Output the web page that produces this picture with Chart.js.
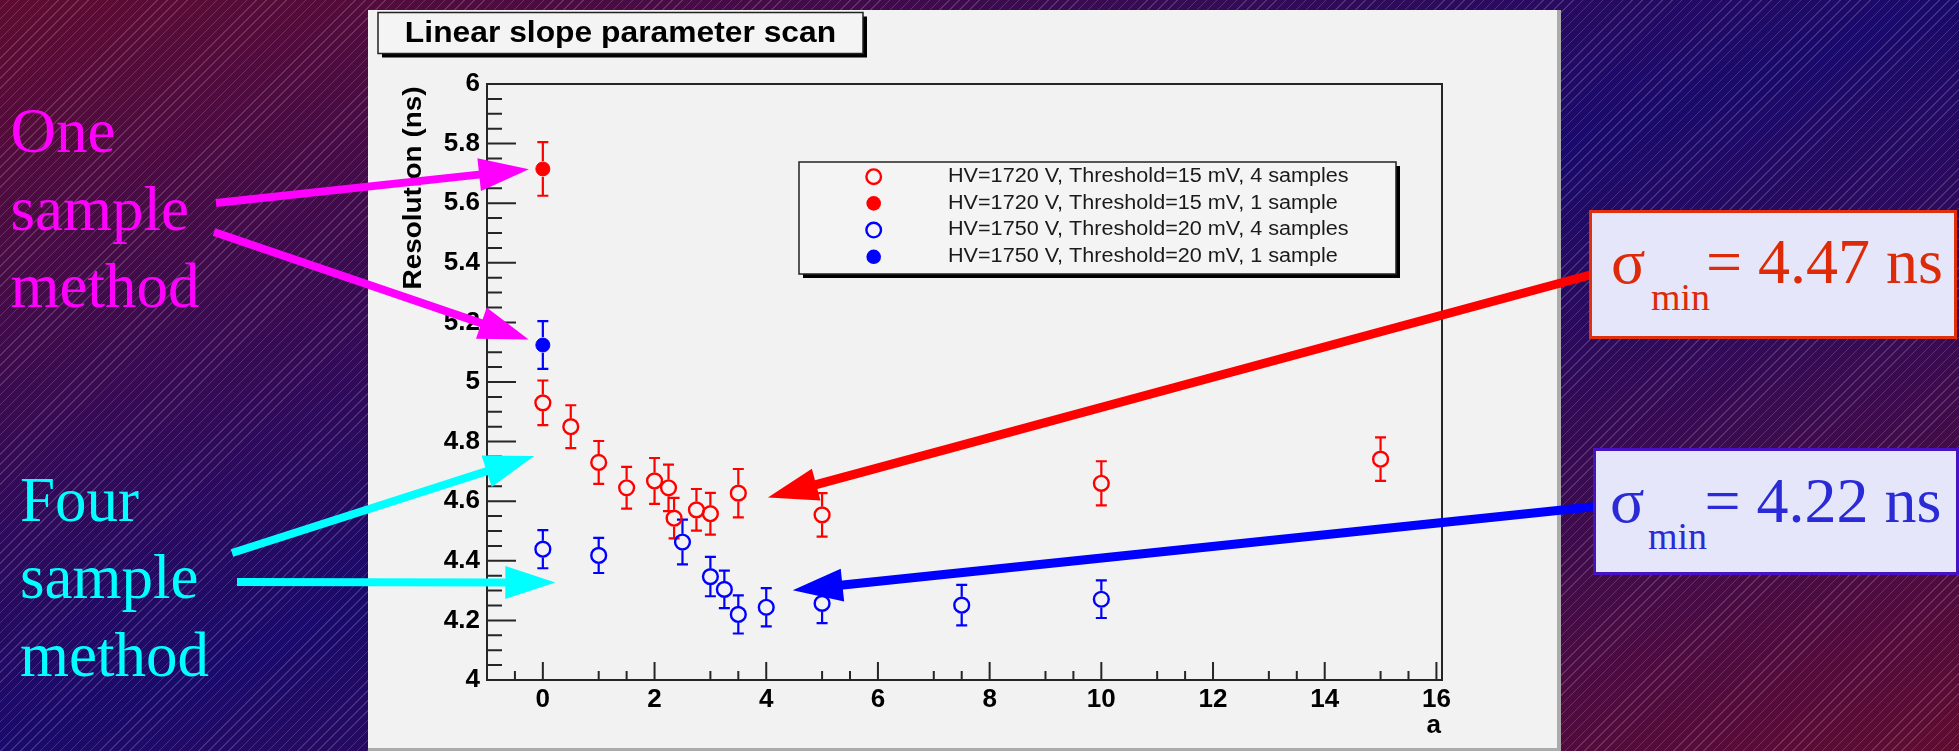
<!DOCTYPE html>
<html>
<head>
<meta charset="utf-8">
<title>Linear slope parameter scan</title>
<script src="https://cdn.jsdelivr.net/npm/chart.js@4.4.1/dist/chart.umd.min.js"></script>
<style>
  html, body { margin: 0; padding: 0; }
  body {
    width: 1959px; height: 751px; overflow: hidden; position: relative;
    background:
      repeating-linear-gradient(135deg, rgba(255,255,255,0) 0px, rgba(255,255,255,0) 6px,
                                rgba(255,255,255,0.16) 6px, rgba(255,255,255,0.16) 7px),
      linear-gradient(to bottom right, #600c30 0%, #1a0a6c 50%, #600c30 100%);
  }
  #plot { position: absolute; left: 0; top: 0; z-index: 1; }
  .caption {
    position: absolute; z-index: 2; white-space: nowrap;
    font-family: "Liberation Serif", "Times New Roman", serif;
    font-size: 63px; line-height: 77.5px;
  }
  .sbox { position: absolute; z-index: 2; box-sizing: border-box; background: #e6e6fa; }
  .stxt {
    position: absolute; z-index: 3; white-space: nowrap;
    font-family: "Liberation Serif", "Times New Roman", serif; line-height: 1;
  }
</style>
</head>
<body>
<canvas id="plot" width="1959" height="751"></canvas>

<div class="caption" style="left:10.5px; top:93.3px; color:#ff00ff;">One<br>sample<br>method</div>
<div class="caption" style="left:20px; top:461.7px; color:#00ffff;">Four<br>sample<br>method</div>

<div class="sbox" style="left:1589px; top:210px; width:368px; height:129px; border:3px solid #e0300e;"></div>
<span class="stxt" style="left:1611px; top:229.7px; font-size:64px; color:#dd2a08;">σ</span>
<span class="stxt" style="left:1651px; top:278.2px; font-size:38px; color:#dd2a08;">min</span>
<span class="stxt" style="left:1706px; top:229.7px; font-size:64px; color:#dd2a08;">= 4.47 ns</span>

<div class="sbox" style="left:1593px; top:448px; width:366px; height:127px; border:3px solid #4612c4;"></div>
<span class="stxt" style="left:1610px; top:469.1px; font-size:64px; color:#2a2ad6;">σ</span>
<span class="stxt" style="left:1648px; top:516.5px; font-size:38px; color:#2a2ad6;">min</span>
<span class="stxt" style="left:1704.5px; top:469.1px; font-size:64px; color:#2a2ad6;">= 4.22 ns</span>

<script>
// ---- Scan results: slope parameter a vs. timing resolution (ns) ----
// HV=1720 V, Threshold=15 mV, 4 samples
const aRed4    = [0, 0.5, 1, 1.5, 2, 2.25, 2.35, 2.75, 3, 3.5, 5, 10, 15];
const resRed4  = [4.93, 4.85, 4.73, 4.645, 4.668, 4.645, 4.543, 4.571, 4.558, 4.627, 4.554, 4.66, 4.741];
const errRed4  = [0.075, 0.072, 0.072, 0.07, 0.077, 0.078, 0.068, 0.07, 0.07, 0.081, 0.073, 0.074, 0.073];
// HV=1720 V, Threshold=15 mV, 1 sample
const aRed1    = [0];
const resRed1  = [5.715];
const errRed1  = [0.09];
// HV=1750 V, Threshold=20 mV, 4 samples
const aBlue4   = [0, 1, 2.5, 3, 3.25, 3.5, 4, 5, 7.5, 10];
const resBlue4 = [4.439, 4.418, 4.463, 4.347, 4.304, 4.22, 4.244, 4.257, 4.251, 4.271];
const errBlue4 = [0.064, 0.059, 0.075, 0.066, 0.063, 0.064, 0.064, 0.066, 0.068, 0.063];
// HV=1750 V, Threshold=20 mV, 1 sample
const aBlue1   = [0];
const resBlue1 = [5.124];
const errBlue1 = [0.08];

const seriesLabels = [
  'HV=1720 V, Threshold=15 mV, 4 samples',
  'HV=1720 V, Threshold=15 mV, 1 sample',
  'HV=1750 V, Threshold=20 mV, 4 samples',
  'HV=1750 V, Threshold=20 mV, 1 sample'
];

const xTickValues = [0, 2, 4, 6, 8, 10, 12, 14, 16];
const xTickLabels = ['0', '2', '4', '6', '8', '10', '12', '14', '16'];
const yTickValues = [4, 4.2, 4.4, 4.6, 4.8, 5, 5.2, 5.4, 5.6, 5.8, 6];
const yTickLabels = ['4', '4.2', '4.4', '4.6', '4.8', '5', '5.2', '5.4', '5.6', '5.8', '6'];

const plotTitle = 'Linear slope parameter scan';
const xTitle = 'a';
const yTitle = 'Resolution (ns)';

// ---- Layout of the page ----
const W = 1959, H = 751;
const FRAME = { left: 487, right: 1442, top: 84, bottom: 680 };
const PANEL = { x: 368, y: 10, w: 1193, h: 741 };
const TITLE_BOX = { x: 378, y: 12.5, w: 485, h: 41 };
const LEGEND_BOX = { x: 799, y: 162, w: 597, h: 112 };
const SANS = '"Liberation Sans", Arial, Helvetica, sans-serif';

// Annotation arrows: tail in page pixels, head in data units (a, ns)
const arrows = [
  { tail: [216, 203], head: [-0.25, 5.714], color: '#ff00ff', width: 8 },
  { tail: [214, 232], head: [-0.254, 5.143], color: '#ff00ff', width: 8 },
  { tail: [232, 553], head: [-0.154, 4.752], color: '#00ffff', width: 8 },
  { tail: [237, 582], head: [0.224, 4.327], color: '#00ffff', width: 8 },
  { tail: [1592, 274.5], head: [4.03, 4.612], color: '#ff0000', width: 9 },
  { tail: [1596, 506.5], head: [4.474, 4.301], color: '#0000ff', width: 9 }
];

function points(xs, ys, es) {
  return xs.map((x, i) => ({ x: x, y: ys[i], err: es[i] }));
}

function stretchedText(ctx, text, x, y, sx, align) {
  ctx.save();
  ctx.translate(x, y);
  ctx.scale(sx, 1);
  ctx.textAlign = align || 'left';
  ctx.fillText(text, 0, 0);
  ctx.restore();
}

function drawArrow(ctx, x0, y0, x1, y1, color, w) {
  const headL = 50, headHW = 16.5;
  const dx = x1 - x0, dy = y1 - y0, len = Math.hypot(dx, dy);
  const ux = dx / len, uy = dy / len;
  const bx = x1 - ux * headL, by = y1 - uy * headL;
  ctx.save();
  ctx.strokeStyle = color; ctx.fillStyle = color;
  ctx.lineWidth = w; ctx.lineCap = 'butt';
  ctx.beginPath(); ctx.moveTo(x0, y0); ctx.lineTo(bx + ux * 2, by + uy * 2); ctx.stroke();
  ctx.beginPath();
  ctx.moveTo(x1, y1);
  ctx.lineTo(bx - uy * headHW, by + ux * headHW);
  ctx.lineTo(bx + uy * headHW, by - ux * headHW);
  ctx.closePath(); ctx.fill();
  ctx.restore();
}

function drawMarker(ctx, x, y, color, filled, r) {
  ctx.save();
  ctx.beginPath(); ctx.arc(x, y, r, 0, Math.PI * 2);
  if (filled) { ctx.fillStyle = color; ctx.fill(); }
  else { ctx.strokeStyle = color; ctx.lineWidth = 2.4; ctx.stroke(); }
  ctx.restore();
}

const canvasDecor = {
  id: 'canvasDecor',
  beforeDraw(chart) {
    const ctx = chart.ctx;
    ctx.save();
    // canvas panel
    ctx.fillStyle = '#f2f2f2';
    ctx.fillRect(PANEL.x, PANEL.y, PANEL.w, PANEL.h);
    ctx.fillStyle = '#ababab';
    ctx.fillRect(PANEL.x + PANEL.w - 4, PANEL.y, 4, PANEL.h);
    ctx.fillRect(PANEL.x, H - 3, PANEL.w, 3);
    // title box with shadow
    const t = TITLE_BOX;
    ctx.fillStyle = '#000';
    ctx.fillRect(t.x + 4, t.y + 4, t.w, t.h);
    ctx.fillStyle = '#f4f4f4';
    ctx.fillRect(t.x, t.y, t.w, t.h);
    ctx.strokeStyle = '#222'; ctx.lineWidth = 1.5;
    ctx.strokeRect(t.x, t.y, t.w, t.h);
    ctx.fillStyle = '#000';
    ctx.font = 'bold 30px ' + SANS;
    ctx.textBaseline = 'alphabetic';
    stretchedText(ctx, plotTitle, t.x + t.w / 2, 41.7, 1.06, 'center');
    ctx.restore();
  },
  beforeDatasetsDraw(chart) {
    // vertical error bars with end caps, leaving the marker interior clear
    const ctx = chart.ctx, xs = chart.scales.x, ys = chart.scales.y;
    chart.data.datasets.forEach(ds => {
      ctx.save();
      ctx.strokeStyle = ds.borderColor; ctx.lineWidth = 2.2;
      ds.data.forEach(p => {
        const px = xs.getPixelForValue(p.x), py = ys.getPixelForValue(p.y);
        const top = ys.getPixelForValue(p.y + p.err), bot = ys.getPixelForValue(p.y - p.err);
        const r = ds.pointRadius + 1;
        ctx.beginPath();
        ctx.moveTo(px, py - r); ctx.lineTo(px, top);
        ctx.moveTo(px, py + r); ctx.lineTo(px, bot);
        ctx.moveTo(px - 5.5, top); ctx.lineTo(px + 5.5, top);
        ctx.moveTo(px - 5.5, bot); ctx.lineTo(px + 5.5, bot);
        ctx.stroke();
      });
      ctx.restore();
    });
  },
  afterDraw(chart) {
    const ctx = chart.ctx, xs = chart.scales.x, ys = chart.scales.y, ca = chart.chartArea;
    ctx.save();
    // frame: top and right sides
    ctx.strokeStyle = '#262626'; ctx.lineWidth = 2;
    ctx.beginPath();
    ctx.moveTo(ca.left, ca.top); ctx.lineTo(ca.right, ca.top); ctx.lineTo(ca.right, ca.bottom);
    ctx.stroke();
    // inward tick marks
    ctx.beginPath();
    for (let i = 0; i < yTickValues.length; i++) {
      const v = yTickValues[i], py = ys.getPixelForValue(v);
      ctx.moveTo(ca.left, py); ctx.lineTo(ca.left + 29, py);
      if (i < yTickValues.length - 1) {
        const step = (yTickValues[i + 1] - v) / 4;
        for (let k = 1; k < 4; k++) {
          const my = ys.getPixelForValue(v + k * step);
          ctx.moveTo(ca.left, my); ctx.lineTo(ca.left + 15, my);
        }
      }
    }
    for (let i = 0; i < xTickValues.length; i++) {
      const v = xTickValues[i], px = xs.getPixelForValue(v);
      ctx.moveTo(px, ca.bottom); ctx.lineTo(px, ca.bottom - 18);
      const half = xs.getPixelForValue(v - 1), halfR = xs.getPixelForValue(v - 0.5);
      if (v - 1 > xs.min) { ctx.moveTo(half, ca.bottom); ctx.lineTo(half, ca.bottom - 9); }
      ctx.moveTo(halfR, ca.bottom); ctx.lineTo(halfR, ca.bottom - 9);
    }
    ctx.stroke();

    // axis titles
    ctx.fillStyle = '#000';
    ctx.font = 'bold 26px ' + SANS;
    ctx.textBaseline = 'alphabetic';
    stretchedText(ctx, xTitle, ca.right - 1, 733, 1.0, 'right');
    ctx.save();
    ctx.translate(421, 289.5);
    ctx.rotate(-Math.PI / 2);
    ctx.scale(1.073, 1);
    ctx.textAlign = 'left';
    ctx.fillText(yTitle, 0, 0);
    ctx.restore();

    // legend box with shadow
    const L = LEGEND_BOX;
    ctx.fillStyle = '#000';
    ctx.fillRect(L.x + 4, L.y + 4, L.w, L.h);
    ctx.fillStyle = '#f4f4f4';
    ctx.fillRect(L.x, L.y, L.w, L.h);
    ctx.strokeStyle = '#222'; ctx.lineWidth = 1.5;
    ctx.strokeRect(L.x, L.y, L.w, L.h);
    ctx.font = '20px ' + SANS;
    chart.data.datasets.forEach((ds, i) => {
      const cy = L.y + 14.7 + i * 26.7;
      drawMarker(ctx, L.x + 74.7, cy, ds.borderColor, ds.backgroundColor !== 'rgba(0,0,0,0)', 7.3);
      ctx.fillStyle = '#1a1a1a';
      stretchedText(ctx, ds.label, L.x + 149, cy + 5.2, 1.08, 'left');
    });

    // annotation arrows
    arrows.forEach(a => {
      drawArrow(ctx, a.tail[0], a.tail[1],
        xs.getPixelForValue(a.head[0]), ys.getPixelForValue(a.head[1]), a.color, a.width);
    });
    ctx.restore();
  }
};

const open = 'rgba(0,0,0,0)';
new Chart(document.getElementById('plot'), {
  type: 'scatter',
  data: {
    datasets: [
      { label: seriesLabels[0], data: points(aRed4, resRed4, errRed4),
        borderColor: '#ff0000', backgroundColor: open, pointRadius: 7.4, pointBorderWidth: 2.4 },
      { label: seriesLabels[1], data: points(aRed1, resRed1, errRed1),
        borderColor: '#ff0000', backgroundColor: '#ff0000', pointRadius: 7, pointBorderWidth: 1 },
      { label: seriesLabels[2], data: points(aBlue4, resBlue4, errBlue4),
        borderColor: '#0000ff', backgroundColor: open, pointRadius: 7.4, pointBorderWidth: 2.4 },
      { label: seriesLabels[3], data: points(aBlue1, resBlue1, errBlue1),
        borderColor: '#0000ff', backgroundColor: '#0000ff', pointRadius: 7, pointBorderWidth: 1 }
    ]
  },
  options: {
    responsive: false,
    animation: false,
    events: [],
    layout: { padding: { left: 0, top: FRAME.top, right: W - FRAME.right, bottom: 0 } },
    plugins: { legend: { display: false }, title: { display: false }, tooltip: { enabled: false } },
    elements: { point: { pointStyle: 'circle', hoverRadius: 7 } },
    scales: {
      x: {
        type: 'linear', min: -1, max: 16.1,
        afterFit(s) { s.height = H - FRAME.bottom; },
        afterBuildTicks(s) { s.ticks = xTickValues.map(v => ({ value: v })); },
        grid: { display: false, drawTicks: false },
        border: { display: true, color: '#262626', width: 2 },
        ticks: {
          autoSkip: false, maxRotation: 0, padding: 4, color: '#000',
          font: { family: SANS, size: 26, weight: 'bold' },
          callback: (v, i) => xTickLabels[i]
        }
      },
      y: {
        type: 'linear', min: 4, max: 6,
        afterFit(s) { s.width = FRAME.left; },
        afterBuildTicks(s) { s.ticks = yTickValues.map(v => ({ value: v })); },
        grid: { display: false, drawTicks: false },
        border: { display: true, color: '#262626', width: 2 },
        ticks: {
          autoSkip: false, padding: 7, color: '#000',
          font: { family: SANS, size: 26, weight: 'bold' },
          callback: (v, i) => yTickLabels[i]
        }
      }
    }
  },
  plugins: [canvasDecor]
});
</script>
</body>
</html>
